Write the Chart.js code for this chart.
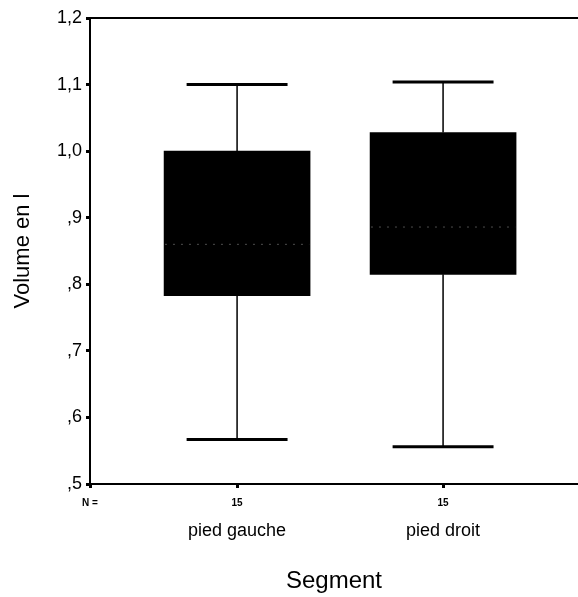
<!DOCTYPE html>
<html>
<head>
<meta charset="utf-8">
<script src="https://cdn.jsdelivr.net/npm/chart.js@4.4.1/dist/chart.umd.min.js"></script>
<style>
  body { margin: 0; background: #fff; }
</style>
</head>
<body>
<canvas id="chart" width="578" height="597"></canvas>
<script>
// Box plot values
const categories = ['pied gauche', 'pied droit'];
const nCounts = [15, 15];
const whiskerLow = [0.567, 0.556];
const q1 = [0.783, 0.815];
const medians = [0.86, 0.886];
const q3 = [1.0, 1.028];
const whiskerHigh = [1.10, 1.104];

const xPos = categories.map((c, i) => i + 1);
const xMin = 0.286;
const xMax = 2.655;
const capHalf = 0.245;

const font = '"Liberation Sans", Arial, sans-serif';

// vertical whisker stems, broken with NaN between segments
const stems = [];
xPos.forEach((x, i) => {
    stems.push({ x: x, y: q3[i] }, { x: x, y: whiskerHigh[i] }, { x: x, y: NaN });
    stems.push({ x: x, y: whiskerLow[i] }, { x: x, y: q1[i] }, { x: x, y: NaN });
});

const caps = [];
xPos.forEach((x, i) => {
    caps.push({ x: x - capHalf, y: whiskerHigh[i] }, { x: x + capHalf, y: whiskerHigh[i] }, { x: x, y: NaN });
    caps.push({ x: x - capHalf, y: whiskerLow[i] }, { x: x + capHalf, y: whiskerLow[i] }, { x: x, y: NaN });
});

const medianLines = [];
xPos.forEach((x, i) => {
    medianLines.push({ x: x - 0.35, y: medians[i] }, { x: x + 0.35, y: medians[i] }, { x: x, y: NaN });
});

const ctx = document.getElementById('chart').getContext('2d');

new Chart(ctx, {
    type: 'bar',
    data: {
        datasets: [
            {
                type: 'bar',
                label: 'box',
                data: xPos.map((x, i) => ({ x: x, y: [q1[i], q3[i]] })),
                backgroundColor: '#000',
                borderWidth: 0,
                barThickness: 146,
                order: 4
            },
            {
                type: 'line',
                label: 'median',
                data: medianLines,
                borderColor: 'rgba(255,255,255,0.3)',
                borderWidth: 1,
                borderDash: [2, 6],
                pointRadius: 0,
                spanGaps: false,
                order: 1
            },
            {
                type: 'line',
                label: 'stems',
                data: stems,
                borderColor: '#000',
                borderWidth: 1.5,
                pointRadius: 0,
                spanGaps: false,
                order: 2
            },
            {
                type: 'line',
                label: 'caps',
                data: caps,
                borderColor: '#000',
                borderWidth: 3,
                pointRadius: 0,
                spanGaps: false,
                order: 3
            }
        ]
    },
    options: {
        responsive: false,
        animation: false,
        devicePixelRatio: 1,
        layout: { padding: 0 },
        plugins: {
            legend: { display: false },
            tooltip: { enabled: false }
        },
        scales: {
            xTop: {
                type: 'linear',
                position: 'top',
                offset: false,
                min: xMin,
                max: xMax,
                ticks: { display: false },
                grid: { display: true, offset: false, drawOnChartArea: false, drawTicks: false },
                border: { display: true, color: '#000', width: 2 },
                afterFit: (scale) => { scale.height = 18; }
            },
            x: {
                type: 'linear',
                position: 'bottom',
                offset: false,
                min: xMin,
                max: xMax,
                afterBuildTicks: (scale) => {
                    scale.ticks = [{ value: xMin }].concat(xPos.map(v => ({ value: v })));
                },
                ticks: {
                    autoSkip: false,
                    maxRotation: 0,
                    padding: 9,
                    color: '#000',
                    font: { family: font, size: 10, weight: 'bold' },
                    callback: (value, index) => index === 0 ? 'N =' : nCounts[index - 1]
                },
                grid: { offset: false, drawOnChartArea: false, tickLength: 4, tickWidth: 3, tickColor: '#000' },
                border: { color: '#000', width: 2 },
                afterFit: (scale) => { scale.height = 28; }
            },
            xCat: {
                type: 'linear',
                position: 'bottom',
                offset: false,
                min: xMin,
                max: xMax,
                afterBuildTicks: (scale) => {
                    scale.ticks = xPos.map(v => ({ value: v }));
                },
                ticks: {
                    autoSkip: false,
                    maxRotation: 0,
                    padding: 8,
                    color: '#000',
                    font: { family: font, size: 18 },
                    callback: (value, index) => categories[index]
                },
                grid: { display: false, offset: false, drawTicks: false },
                border: { display: false },
                title: {
                    display: true,
                    text: 'Segment',
                    color: '#000',
                    font: { family: font, size: 24 },
                    padding: { top: 0, bottom: 1 }
                },
                afterFit: (scale) => { scale.height = 85; }
            },
            y: {
                type: 'linear',
                min: 0.5,
                max: 1.2,
                ticks: {
                    stepSize: 0.1,
                    padding: 4,
                    color: '#000',
                    font: { family: font, size: 18 },
                    callback: (value) => value.toFixed(1).replace('.', ',').replace(/^0/, '')
                },
                grid: { drawOnChartArea: false, tickLength: 4, tickWidth: 3, tickColor: '#000' },
                border: { color: '#000', width: 2 },
                title: {
                    display: true,
                    text: 'Volume en l',
                    color: '#000',
                    font: { family: font, size: 22 },
                    padding: { top: 10, bottom: 0 }
                },
                afterFit: (scale) => { scale.width = 90; }
            }
        }
    }
});
</script>
</body>
</html>
